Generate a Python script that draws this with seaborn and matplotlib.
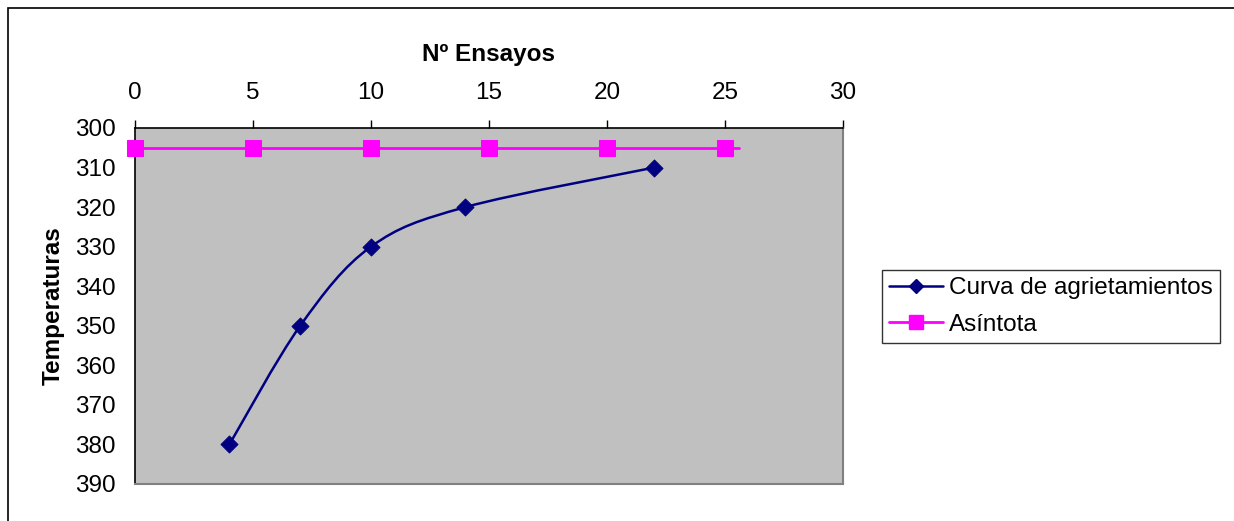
import numpy as np
import pandas as pd
import matplotlib
matplotlib.use("Agg")
import matplotlib.pyplot as plt
import seaborn as sns
from matplotlib.path import Path
from matplotlib.patches import PathPatch, Rectangle
from matplotlib.lines import Line2D

# ---- data ----
ensayos = [4, 7, 10, 14, 22]
temperaturas = [380, 350, 330, 320, 310]
asintota_x = [0, 5, 10, 15, 20, 25, 25.6]
asintota_y = [305, 305, 305, 305, 305, 305, 305]
x_ticks = [0, 5, 10, 15, 20, 25, 30]
y_ticks = [300, 310, 320, 330, 340, 350, 360, 370, 380, 390]
serie_curva = "Curva de agrietamientos"
serie_asintota = "Asíntota"
titulo_x = "Nº Ensayos"
titulo_y = "Temperaturas"

sns.set_style("white")
plt.rcParams["font.family"] = ["Liberation Sans", "DejaVu Sans"]
plt.rcParams["text.color"] = "black"
plt.rcParams["axes.labelcolor"] = "black"

NAVY = "#000080"
MAGENTA = "#FF00FF"
GRAY = "#C0C0C0"
FS = 17.5

fig = plt.figure(figsize=(12.34, 5.21), dpi=100)
ax = fig.add_axes([135 / 1234, 1 - 484 / 521, (843 - 135) / 1234, (484 - 128) / 521])
ax.set_facecolor(GRAY)

# asymptote
sns.lineplot(x=asintota_x, y=asintota_y, ax=ax, color=MAGENTA, lw=2,
             marker="s", markersize=11, markeredgecolor=MAGENTA,
             markevery=list(range(6)), clip_on=False, sort=False,
             estimator=None, zorder=3)

# smoothed curve (Catmull-Rom style bezier through data points)
pts = np.column_stack([ensayos, temperaturas]).astype(float)
ext = np.vstack([pts[0], pts, pts[-1]])
verts = [tuple(pts[0])]
codes = [Path.MOVETO]
for i in range(len(pts) - 1):
    p0, p1, p2, p3 = ext[i], ext[i + 1], ext[i + 2], ext[i + 3]
    c1 = p1 + (p2 - p0) / 6.0
    c2 = p2 - (p3 - p1) / 6.0
    verts += [tuple(c1), tuple(c2), tuple(p2)]
    codes += [Path.CURVE4] * 3
ax.add_patch(PathPatch(Path(verts, codes), facecolor="none", edgecolor=NAVY,
                       lw=1.8, zorder=4))
sns.scatterplot(x=ensayos, y=temperaturas, ax=ax, marker="D", s=75,
                color=NAVY, edgecolor=NAVY, zorder=5, clip_on=False)

ax.set_xlim(0, 30)
ax.set_ylim(390, 300)
ax.set_xticks(x_ticks)
ax.set_yticks(y_ticks)
ax.xaxis.tick_top()
ax.xaxis.set_label_position("top")
ax.tick_params(axis="both", direction="out", length=5.5, width=1, color="black",
               labelsize=FS, labelcolor="black")
ax.tick_params(axis="x", pad=12)
ax.tick_params(axis="y", pad=8.5)
ax.set_xlabel(titulo_x, fontsize=FS, fontweight="bold", labelpad=15, color="black")
ax.set_ylabel(titulo_y, fontsize=FS, fontweight="bold", labelpad=7.5, color="black")

for s in ["top", "left"]:
    ax.spines[s].set_color("black")
    ax.spines[s].set_linewidth(1.2)
for s in ["right", "bottom"]:
    ax.spines[s].set_color("#808080")
    ax.spines[s].set_linewidth(1.5)

handles = [
    Line2D([], [], color=NAVY, lw=1.8, marker="D", markersize=7.5),
    Line2D([], [], color=MAGENTA, lw=2, marker="s", markersize=10),
]
leg = fig.legend(handles, [serie_curva, serie_asintota], loc="lower left",
                 bbox_to_anchor=(882 / 1234, 1 - 343 / 521),
                 bbox_transform=fig.transFigure, fontsize=FS, frameon=True,
                 fancybox=False, edgecolor="black", borderpad=0.3,
                 handlelength=2.2, handletextpad=0.25, labelspacing=0.6,
                 borderaxespad=0)
leg.get_frame().set_linewidth(1)
for t in leg.get_texts():
    t.set_color("black")

fig.patches.append(Rectangle((8 / 1234, -0.05), 1.0, 1.05 - 8 / 521,
                             transform=fig.transFigure, fill=False,
                             edgecolor="black", lw=1.2))

fig.savefig("out.png", dpi=100)
